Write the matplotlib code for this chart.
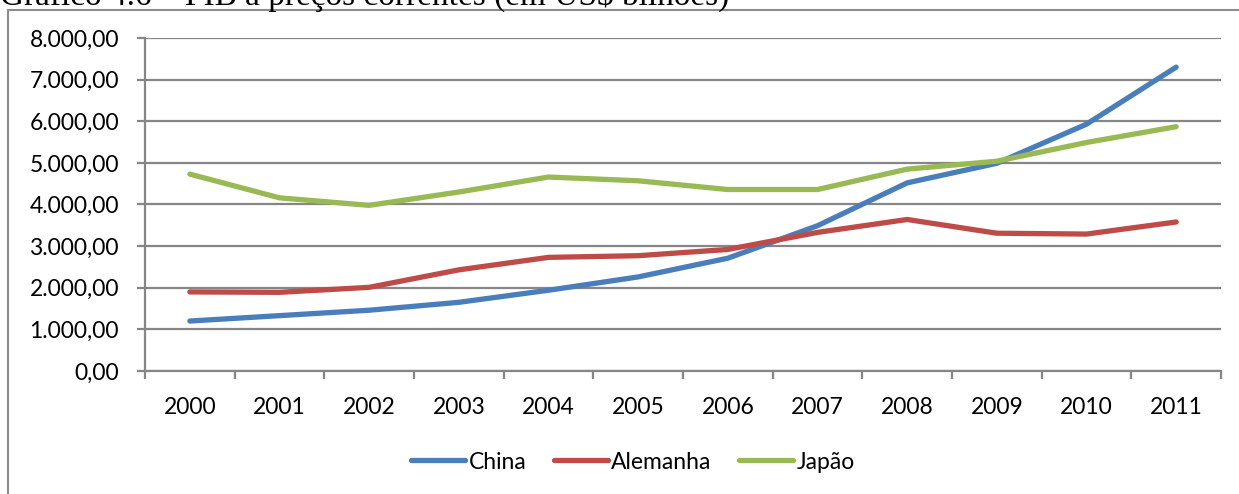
import matplotlib
matplotlib.use("Agg")
import matplotlib.pyplot as plt
from matplotlib.lines import Line2D
from matplotlib.patches import Rectangle
from matplotlib.ticker import FuncFormatter, FixedLocator

# PIB a preços correntes (US$ bilhões)
anos = ["2000", "2001", "2002", "2003", "2004", "2005",
        "2006", "2007", "2008", "2009", "2010", "2011"]
china = [1200, 1330, 1460, 1650, 1940, 2260, 2710, 3490, 4520, 4990, 5930, 7300]
alemanha = [1900, 1890, 2010, 2430, 2730, 2770, 2920, 3330, 3640, 3310, 3290, 3580]
japao = [4730, 4160, 3980, 4300, 4660, 4570, 4360, 4360, 4850, 5040, 5490, 5870]

series = [("China", china, "#4A7EBB"),
          ("Alemanha", alemanha, "#BE4B48"),
          ("Japão", japao, "#98B954")]

W, H = 1239, 494
fig = plt.figure(figsize=(W / 100, H / 100), dpi=100)
fig.patch.set_facecolor("white")

FONT = "Lato"
GRID = "#868686"

# chart frame
fig.patches.append(Rectangle((8 / W, -0.1), 1.2, (H - 10) / H + 0.1,
                             transform=fig.transFigure, fill=False,
                             edgecolor="#8c8c8c", linewidth=1.5, zorder=0))

# caption above the frame (mostly outside the canvas)
cap = fig.text(0.0, 1 - 5 / H, "Gráfico 4.6 – PIB a preços correntes (em US$ bilhões)",
               family="Liberation Serif", fontsize=17, ha="left", va="baseline",
               color="black")
fig.canvas.draw()
bb = cap.get_window_extent()
cap.set_fontsize(17 * 728 / bb.width)

left, right = 145 / W, 1221 / W
bottom, top = (H - 371) / H, (H - 38) / H
ax = fig.add_axes([left, bottom, right - left, top - bottom])

x = list(range(len(anos)))
for nome, vals, cor in series:
    ax.plot(x, vals, color=cor, linewidth=3.8, solid_capstyle="round",
            solid_joinstyle="round", label=nome, zorder=3)

ax.set_xlim(-0.5, len(anos) - 0.5)
ax.set_ylim(0, 8000)
ax.set_yticks(range(0, 8001, 1000))
ax.yaxis.set_major_formatter(FuncFormatter(
    lambda v, p: f"{v:,.2f}".replace(",", "X").replace(".", ",").replace("X", ".")))
ax.grid(axis="y", color=GRID, linewidth=1.6, zorder=1)
ax.set_axisbelow(True)

ax.set_xticks(x)
ax.set_xticklabels(anos)
ax.xaxis.set_minor_locator(FixedLocator([i - 0.5 for i in range(len(anos) + 1)]))
ax.tick_params(axis="x", which="major", length=0, pad=19, labelsize=16.5,
               labelcolor="black")
ax.tick_params(axis="x", which="minor", length=5.5, width=1.6, color=GRID,
               direction="out")
ax.tick_params(axis="y", length=5.8, width=1.6, color=GRID, pad=13,
               labelsize=16.5, labelcolor="black")
for lab in ax.get_xticklabels() + ax.get_yticklabels():
    lab.set_family(FONT)

for s in ("top", "right"):
    ax.spines[s].set_visible(False)
ax.spines["left"].set_color(GRID)
ax.spines["left"].set_linewidth(1.6)
ax.spines["bottom"].set_color(GRID)
ax.spines["bottom"].set_linewidth(1.6)

handles = [Line2D([], [], color=c, linewidth=3.8, solid_capstyle="round")
           for _, _, c in series]
fig.legend(handles, [n for n, _, _ in series], loc="center",
           bbox_to_anchor=(633 / W, 1 - 462 / H), ncol=3, frameon=False,
           handlelength=2.35, handletextpad=0.15, columnspacing=1.2,
           prop={"family": FONT, "size": 16.5})

fig.savefig("out.png", dpi=100, facecolor="white")
